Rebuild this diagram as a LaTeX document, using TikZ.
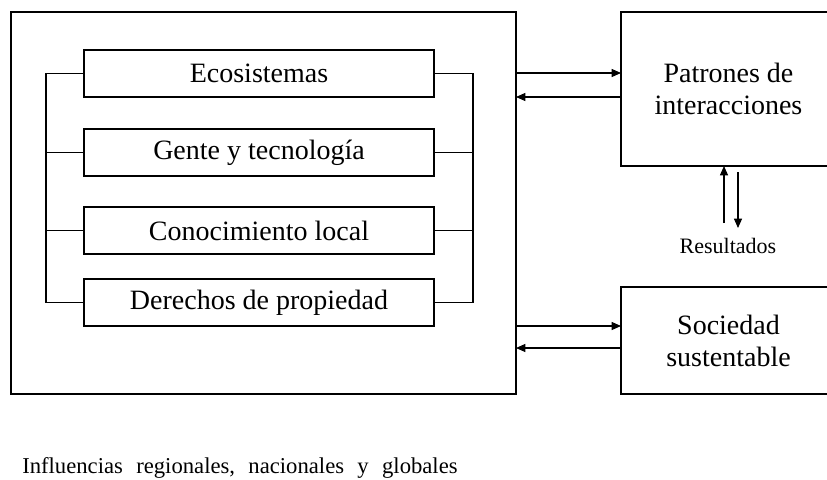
\documentclass[tikz,border=0pt]{standalone}
\usepackage{fontspec}
\setmainfont{Liberation Serif}
\usetikzlibrary{arrows.meta}
\begin{document}
\begin{tikzpicture}[x=0.75pt,y=-0.75pt,
  box/.style={draw, line width=0.8pt, inner sep=0pt, outer sep=0pt, align=center,
    font=\fontsize{21pt}{24pt}\selectfont},
  inbox/.style={box, minimum width=262.5pt, minimum height=35.25pt},
  ln/.style={line width=0.8pt},
  arr/.style={line width=0.8pt, -{Triangle[length=7pt,width=6pt]}}]
\clip (0,0) rectangle (827,479);
\fill[white] (0,0) rectangle (827,479);
% outer box
\node[box, minimum width=378.75pt, minimum height=286.5pt] (outer) at (263.5,203) {};
% inner boxes
\node[inbox] (b1) at (259,73.5) {Ecosistemas};
\node[inbox] (b2) at (259,152.5) {Gente y tecnología};
\node[inbox] (b3) at (259,230.5) {Conocimiento local};
\node[inbox] (b4) at (259,302.5) {Derechos de propiedad};
% brackets
\coordinate (lt) at (46,73.5);
\coordinate (lb) at (46,302.5);
\coordinate (rt) at (473,73.5);
\coordinate (rb) at (473,302.5);
\draw[ln] (b1.west) -- (lt) -- (lb) -- (b4.west);
\draw[ln] (b2.west) -- (lt |- b2.west);
\draw[ln] (b3.west) -- (lt |- b3.west);
\draw[ln] (b1.east) -- (rt) -- (rb) -- (b4.east);
\draw[ln] (b2.east) -- (rt |- b2.east);
\draw[ln] (b3.east) -- (rt |- b3.east);
% right boxes
\node[box, minimum width=161.25pt, minimum height=115.5pt] (pat) at (728.5,89) {Patrones de\\interacciones};
\node[box, minimum width=161.25pt, minimum height=80.25pt] (soc) at (728.5,340.5) {Sociedad\\sustentable};
% arrows
\draw[arr] (outer.east |- 0,73) -- (pat.west |- 0,73);
\draw[arr] (pat.west |- 0,97) -- (outer.east |- 0,97);
\draw[arr] (outer.east |- 0,326) -- (soc.west |- 0,326);
\draw[arr] (soc.west |- 0,348) -- (outer.east |- 0,348);
\coordinate (u0) at (724,223);
\coordinate (d1) at (738,228);
\draw[arr] (u0) -- (pat.south -| u0);
\draw[arr] (pat.south -| d1) ++(0,6) -- (d1);
\node[anchor=base, inner sep=0pt, font=\fontsize{16.5pt}{19pt}\selectfont] (res) at (728,253) {Resultados};
\node[anchor=base west, inner sep=0pt, font=\fontsize{17pt}{20pt}\selectfont] (infl) at (22,473)
  {Influencias\hspace{10pt}regionales,\hspace{10pt}nacionales\hspace{10pt}y\hspace{10pt}globales};
\end{tikzpicture}
\end{document}
